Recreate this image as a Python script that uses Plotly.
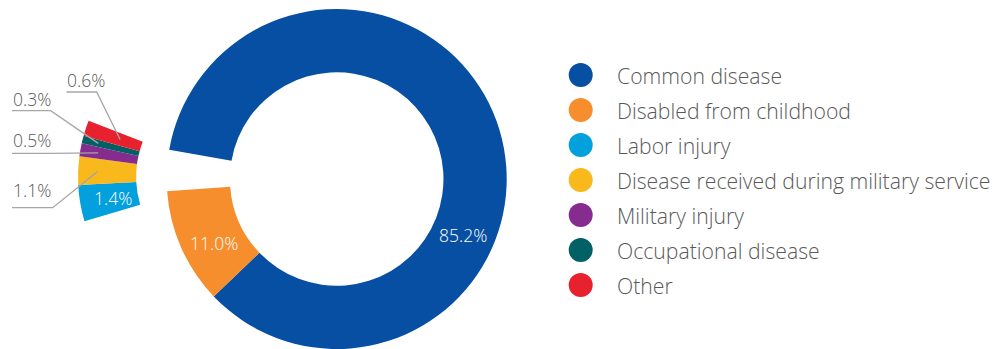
import math
import plotly.graph_objects as go

# ---------------- data ----------------
labels = ["Common disease", "Disabled from childhood", "Labor injury",
          "Disease received during military service", "Military injury",
          "Occupational disease", "Other"]
values = [85.2, 11.0, 1.4, 1.1, 0.5, 0.3, 0.6]
colors = ["#064fa2", "#f68e2d", "#02a0dc", "#f9b81c", "#862c8f", "#016064", "#e8212f"]

# ---------------- layout parameters (pixels) ----------------
W, H = 995, 349
FONT = "Open Sans, Lato, sans-serif"
TXT = "#595959"
LINE = "#a6a6a6"
CLEAR = "rgba(0,0,0,0)"
LABEL_SIZE = 17.5
LEGEND_SIZE = 21.2

MAIN_CX, MAIN_R, MAIN_HOLE, MAIN_START = 336.7, 170.0, 0.628, 170.1
MAIN_CY = H - MAIN_R
FAN_CX, FAN_CY, FAN_R, FAN_HOLE, FAN_START, FAN_DEG = 233.0, 177.0, 155.0, 0.625, 196.6, 37.9

BIG = [0, 1]
SMALL = [2, 3, 4, 5, 6]


def fmt(v):
    return f"{v:.1f}%"


def mid_angles(vals, start):
    tot = sum(vals)
    out, cum = [], 0.0
    for v in vals:
        out.append(start - (cum + v / 2) / tot * 360.0)
        cum += v
    return out


def polar(cx, cy, r, ang):
    a = math.radians(ang)
    return cx + r * math.cos(a), cy - r * math.sin(a)


fig = go.Figure()

# main donut (small slices left empty: they are shown magnified to the left)
main_colors = [colors[i] if i in BIG else CLEAR for i in range(len(values))]
fig.add_trace(go.Pie(
    labels=labels, values=values, sort=False, direction="clockwise",
    rotation=90 - MAIN_START, hole=MAIN_HOLE,
    marker=dict(colors=main_colors, line=dict(width=0)),
    textinfo="none", hoverinfo="label+value", showlegend=False,
    domain=dict(x=[(MAIN_CX - MAIN_R) / W, (MAIN_CX + MAIN_R) / W],
                y=[0, 2 * MAIN_R / H]),
))

# magnified fan of the small categories
small_vals = [values[i] for i in SMALL]
filler = sum(small_vals) * (360.0 / FAN_DEG - 1)
fig.add_trace(go.Pie(
    labels=[labels[i] for i in SMALL] + [" "], values=small_vals + [filler],
    sort=False, direction="clockwise", rotation=90 - FAN_START, hole=FAN_HOLE,
    marker=dict(colors=[colors[i] for i in SMALL] + [CLEAR], line=dict(width=0)),
    textinfo="none", hoverinfo="skip", showlegend=False,
    domain=dict(x=[(FAN_CX - FAN_R) / W, (FAN_CX + FAN_R) / W],
                y=[(H - FAN_CY - FAN_R) / H, (H - FAN_CY + FAN_R) / H]),
))

annotations = []
shapes = []

# labels of the big slices (inside, white)
big_label_angle = {0: -24.0, 1: 207.5}
rmid = MAIN_R * (1 + MAIN_HOLE) / 2
for i in BIG:
    x, y = polar(MAIN_CX, MAIN_CY, rmid, big_label_angle[i])
    annotations.append(dict(x=x, y=y, xref="x", yref="y", text=fmt(values[i]),
                            showarrow=False,
                            font=dict(family=FONT, size=LABEL_SIZE, color="white", weight=300)))

# labels of the magnified slices
fan_mids = mid_angles(small_vals + [filler], FAN_START)
fan_rmid = FAN_R * (1 + FAN_HOLE) / 2
# per small slice: (text left x, text centre y, elbow x, line y, end radius) ; None = inside
small_label_pos = {
    2: None,
    3: (10.5, 190.0, 52.7, 207.7, 135.5),
    4: (10.5, 140.3, 50.0, 153.3, 137.0),
    5: (10.5, 98.7, 50.7, 110.7, 138.8),
    6: (65.0, 80.3, 96.7, 92.0, 119.0),
}
for k, i in enumerate(SMALL):
    pos = small_label_pos[i]
    if pos is None:
        x, y = polar(FAN_CX, FAN_CY, fan_rmid - 4, fan_mids[k])
        annotations.append(dict(x=x, y=y, xref="x", yref="y", text=fmt(values[i]),
                                showarrow=False,
                                font=dict(family=FONT, size=LABEL_SIZE, color="white", weight=300)))
        continue
    tx, ty, ex, ly, er = pos
    annotations.append(dict(x=tx, y=ty, xref="x", yref="y", text=fmt(values[i]),
                            xanchor="left", yanchor="middle", showarrow=False,
                            font=dict(family=FONT, size=LABEL_SIZE, color=TXT, weight=300)))
    px, py = polar(FAN_CX, FAN_CY, er, fan_mids[k])
    shapes.append(dict(type="path", xref="x", yref="y", layer="above",
                       path=f"M {tx + 1.5:.1f} {ly:.1f} L {ex:.1f} {ly:.1f} L {px:.1f} {py:.1f}",
                       line=dict(color=LINE, width=1.3)))

# legend (circle markers + text)
LEG_X, LEG_TX, LEG_Y0, LEG_DY = 580.7, 615.0, 75.0, 35.0
leg_y = [LEG_Y0 + LEG_DY * i for i in range(len(labels))]
fig.add_trace(go.Scatter(
    x=[LEG_X] * len(labels), y=leg_y, mode="markers",
    marker=dict(size=24, color=colors, line=dict(width=0)),
    hoverinfo="skip", showlegend=False, xaxis="x", yaxis="y",
))
for lab, y in zip(labels, leg_y):
    annotations.append(dict(x=LEG_TX, y=y, xref="x", yref="y", text=lab,
                            xanchor="left", yanchor="middle", showarrow=False,
                            font=dict(family=FONT, size=LEGEND_SIZE, color=TXT, weight=300)))

fig.update_layout(
    width=W, height=H, margin=dict(l=0, r=0, t=0, b=0),
    paper_bgcolor="white", plot_bgcolor="white",
    xaxis=dict(range=[0, W], domain=[0, 1], visible=False, fixedrange=True),
    yaxis=dict(range=[H, 0], domain=[0, 1], visible=False, fixedrange=True),
    annotations=annotations, shapes=shapes, showlegend=False,
    font=dict(family=FONT),
)

fig.write_html("out.html")
